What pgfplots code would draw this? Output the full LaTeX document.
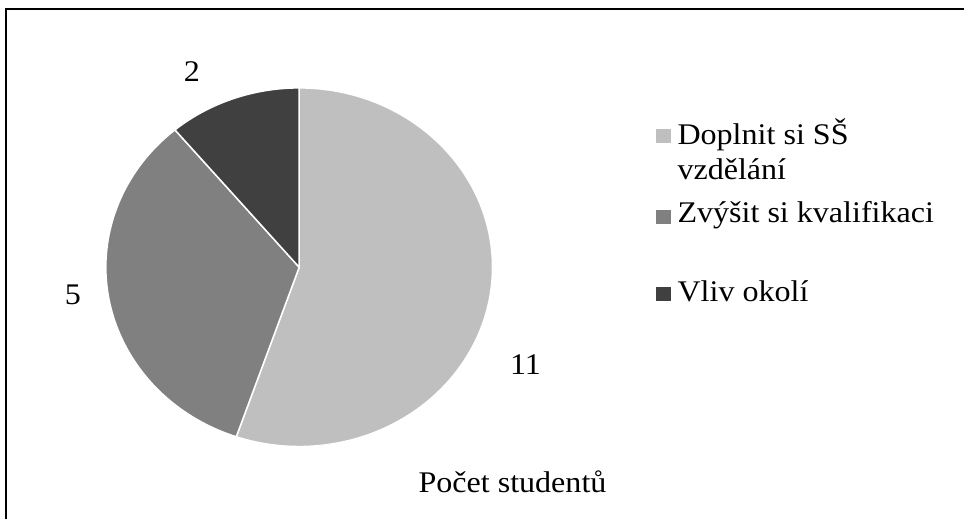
\documentclass[border=0pt]{standalone}
\usepackage{pgfplots}
\pgfplotsset{compat=1.18}
\usepackage{fontspec}
\setmainfont{Liberation Serif}
\definecolor{cA}{HTML}{BFBFBF}
\definecolor{cB}{HTML}{808080}
\definecolor{cC}{HTML}{404040}
\tikzset{lbl/.style={font=\fontsize{30bp}{36bp}\selectfont, xscale=1.07, inner sep=0pt}}
\begin{document}
\begin{tikzpicture}
\begin{axis}[
  width=965bp, height=520bp, scale only axis,
  xmin=0, xmax=965, ymin=0, ymax=520, y dir=reverse,
  hide axis, clip=false,
]
\path (axis cs:0,0) rectangle (axis cs:965,520);
% frame (top and left edges visible)
\draw[black, line width=2bp] (axis cs:6,520) -- (axis cs:6,9) -- (axis cs:965,9);
% slices: Doplnit si SS vzdelani (11), Zvysit si kvalifikaci (5), Vliv okoli (2)
% spans (degrees) as drawn in the reference: 199, 121, 40
\fill[cA, draw=white, line width=1.5bp] (axis cs:299.5,267.5) -- ++(90:193.5bp and 179.5bp)
  arc[start angle=90, end angle=-109, x radius=193.5bp, y radius=179.5bp] -- cycle;
\fill[cB, draw=white, line width=1.5bp] (axis cs:299.5,267.5) -- ++(-109:193.5bp and 179.5bp)
  arc[start angle=-109, end angle=-230, x radius=193.5bp, y radius=179.5bp] -- cycle;
\fill[cC, draw=white, line width=1.5bp] (axis cs:299.5,267.5) -- ++(130:193.5bp and 179.5bp)
  arc[start angle=130, end angle=90, x radius=193.5bp, y radius=179.5bp] -- cycle;
% data labels
\node[lbl, anchor=base] at (axis cs:526,375) {11};
\node[lbl, anchor=base] at (axis cs:73,305) {5};
\node[lbl, anchor=base] at (axis cs:192,82) {2};
% legend
\fill[cA] (axis cs:657,129) rectangle (axis cs:672,143);
\fill[cB] (axis cs:657,210) rectangle (axis cs:672,224);
\fill[cC] (axis cs:657,287) rectangle (axis cs:672,301);
\node[lbl, anchor=base west] at (axis cs:678,145) {Doplnit si SŠ};
\node[lbl, anchor=base west] at (axis cs:678,180) {vzdělání};
\node[lbl, anchor=base west] at (axis cs:678,223) {Zvýšit si kvalifikaci};
\node[lbl, anchor=base west] at (axis cs:678,302) {Vliv okolí};
% title at bottom
\node[lbl, anchor=base] at (axis cs:513,493) {Počet studentů};
\end{axis}
\end{tikzpicture}
\end{document}
